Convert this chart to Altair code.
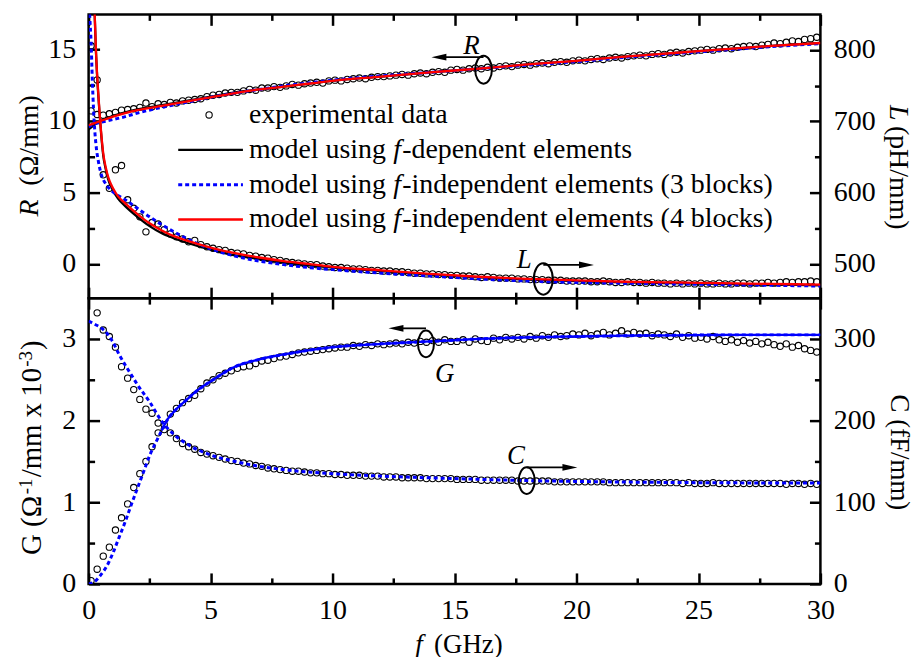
import altair as alt
import pandas as pd

FONT = "Liberation Serif"
FS = 28

# ---------------- measured data (experimental) ----------------
FREQ = [0.1, 0.35, 0.6, 0.85, 1.1, 1.35, 1.6, 1.85, 2.1, 2.35,
        2.6, 2.85, 3.1, 3.35, 3.6, 3.85, 4.1, 4.35, 4.6, 4.85,
        5.1, 5.35, 5.6, 5.85, 6.1, 6.35, 6.6, 6.85, 7.1, 7.35,
        7.6, 7.85, 8.1, 8.35, 8.6, 8.85, 9.1, 9.35, 9.6, 9.85,
        10.1, 10.35, 10.6, 10.85, 11.1, 11.35, 11.6, 11.85, 12.1, 12.35,
        12.6, 12.85, 13.1, 13.35, 13.6, 13.85, 14.1, 14.35, 14.6, 14.85,
        15.1, 15.35, 15.6, 15.85, 16.1, 16.35, 16.6, 16.85, 17.1, 17.35,
        17.6, 17.85, 18.1, 18.35, 18.6, 18.85, 19.1, 19.35, 19.6, 19.85,
        20.1, 20.35, 20.6, 20.85, 21.1, 21.35, 21.6, 21.85, 22.1, 22.35,
        22.6, 22.85, 23.1, 23.35, 23.6, 23.85, 24.1, 24.35, 24.6, 24.85,
        25.1, 25.35, 25.6, 25.85, 26.1, 26.35, 26.6, 26.85, 27.1, 27.35,
        27.6, 27.85, 28.1, 28.35, 28.6, 28.85, 29.1, 29.35, 29.6, 29.85]

R_EXP = [10.7, 10.45, 10.4, 10.5, 10.6, 10.75, 10.8, 10.85, 10.95, 11.25,
         11.0, 11.2, 11.15, 11.3, 11.25, 11.4, 11.45, 11.5, 11.55, 11.7,
         11.8, 11.85, 11.95, 12.0, 12.0, 12.1, 12.2, 12.15, 12.3, 12.3,
         12.4, 12.35, 12.45, 12.55, 12.5, 12.6, 12.65, 12.7, 12.65, 12.8,
         12.85, 12.8, 12.9, 12.95, 13.0, 12.95, 13.05, 13.1, 13.1, 13.15,
         13.2, 13.25, 13.2, 13.3, 13.35, 13.3, 13.4, 13.45, 13.4, 13.55,
         13.6, 13.55, 13.65, 13.7, 13.65, 13.75, 13.7, 13.8, 13.85, 13.8,
         13.9, 13.95, 13.9, 14.0, 14.05, 14.0, 14.1, 14.15, 14.1, 14.2,
         14.25, 14.2, 14.3, 14.35, 14.3, 14.4, 14.45, 14.4, 14.5, 14.55,
         14.6, 14.55, 14.65, 14.7, 14.65, 14.75, 14.8, 14.75, 14.85, 14.9,
         14.95, 15.0, 14.95, 15.05, 15.1, 15.05, 15.15, 15.2, 15.25, 15.2,
         15.3, 15.35, 15.45, 15.4, 15.5, 15.6, 15.55, 15.7, 15.75, 15.85]

L_EXP = [806, 758, 625, 606, 632, 638, 590, 578, 566, 545,
         558, 556, 548, 542, 538, 535, 531, 533, 527, 524,
         522, 520, 519, 516, 515, 514, 512, 511, 509, 508,
         506, 505, 503, 502, 501, 500, 499, 499, 497, 496,
         495, 495, 494, 493, 493, 492, 491, 491, 490, 490,
         489, 489, 488, 487, 487, 486, 486, 485, 485, 484,
         484, 483, 483, 482, 481, 482, 481, 480, 480, 480,
         479, 479, 478, 478, 478, 477, 477, 477, 476, 476,
         476, 476, 475, 475, 476, 475, 474, 474, 475, 474,
         474, 473, 474, 473, 473, 472, 473, 472, 473, 472,
         473, 472, 472, 473, 472, 472, 473, 473, 472, 473,
         473, 474, 473, 474, 475, 474, 475, 475, 476, 475]

G_EXP = [0.04, 0.18, 0.34, 0.45, 0.66, 0.81, 0.98, 1.18, 1.35, 1.5,
         1.68, 1.85, 1.95, 2.08, 2.15, 2.22, 2.27, 2.31, 2.39, 2.46,
         2.50, 2.55, 2.58, 2.61, 2.64, 2.66, 2.67, 2.70, 2.73, 2.74,
         2.76, 2.78, 2.79, 2.81, 2.83, 2.84, 2.85, 2.86, 2.87, 2.88,
         2.89, 2.90, 2.90, 2.92, 2.91, 2.93, 2.92, 2.94, 2.93, 2.94,
         2.95, 2.94, 2.96, 2.95, 2.97, 2.96, 2.98, 2.96, 2.99, 2.97,
         2.97, 2.99, 2.96, 3.00, 2.98, 2.97, 3.01, 2.99, 3.02, 3.00,
         3.02, 3.00, 3.03, 3.01, 3.04, 3.02, 3.05, 3.03, 3.04, 3.06,
         3.05, 3.07, 3.04, 3.06, 3.08, 3.05, 3.07, 3.10, 3.06, 3.08,
         3.06, 3.07, 3.04, 3.06, 3.05, 3.03, 3.06, 3.02, 3.04, 3.01,
         3.02, 3.00, 3.03, 2.99, 2.97, 2.99, 2.96, 2.98, 2.95, 2.97,
         2.94, 2.96, 2.93, 2.91, 2.94, 2.90, 2.92, 2.88, 2.86, 2.84]

C_EXP = [None, 332, 311, 303, 290, 266, 252, 238, 226, 214,
         209, 197, 189, 185, 178, 172, 168, 165, 161, 159,
         157, 155, 153, 151, 150, 148, 147, 145, 144, 142,
         141, 140, 139, 138, 138, 137, 136, 136, 135, 135,
         134, 134, 133, 133, 133, 132, 132, 132, 131, 131,
         131, 130, 130, 130, 130, 129, 129, 129, 129, 129,
         128, 128, 128, 128, 127, 127, 127, 127, 127, 127,
         126, 126, 126, 126, 126, 126, 125, 125, 125, 125,
         125, 125, 125, 125, 125, 124, 124, 124, 124, 124,
         124, 124, 124, 124, 124, 124, 124, 123, 124, 123,
         123, 123, 124, 123, 123, 123, 123, 123, 123, 123,
         123, 123, 123, 123, 122, 123, 123, 122, 123, 122]

# ---------------- model curves ----------------
R_MODEL_F = [0, 0.25, 0.5, 1, 1.5, 2, 3, 4, 5, 6, 7, 8, 9, 10, 12, 14, 16, 18, 20, 22, 24, 26, 28, 30]
R_FDEP = [9.4, 9.75, 10.0, 10.35, 10.6, 10.8, 11.1, 11.4, 11.7, 12.0, 12.2, 12.4, 12.6, 12.8,
          13.1, 13.4, 13.65, 13.95, 14.2, 14.5, 14.75, 15.0, 15.25, 15.45]
R_3BLK = [9.6, 9.8, 9.9, 10.1, 10.3, 10.55, 10.95, 11.3, 11.65, 11.95, 12.2, 12.45, 12.65, 12.85,
          13.15, 13.4, 13.65, 13.9, 14.15, 14.45, 14.7, 14.95, 15.2, 15.4]
R_4BLK = [9.7, 9.85, 10.0, 10.3, 10.55, 10.75, 11.05, 11.35, 11.65, 11.95, 12.2, 12.4, 12.6, 12.8,
          13.1, 13.4, 13.65, 13.95, 14.2, 14.5, 14.75, 15.0, 15.25, 15.45]

L_MODEL_F = [0.2, 0.25, 0.3, 0.35, 0.4, 0.45, 0.5, 0.6, 0.7, 0.8, 1.0, 1.2, 1.5, 2, 2.5, 3, 3.5, 4,
             5, 6, 7, 8, 9, 10, 12, 14, 16, 18, 20, 22, 24, 26, 28, 30]
L_FDEP = [920, 848, 798, 762, 735, 710, 688, 652, 633, 619, 603, 592, 581, 566, 553, 543, 536, 530,
          520, 512, 507, 502, 498, 495, 490, 485, 481, 478, 476, 474, 473, 472, 471, 470]
L_4BLK = [920, 850, 800, 765, 738, 712, 690, 655, 636, 622, 606, 595, 585, 570, 557, 547, 539, 533,
          523, 515, 509, 504, 500, 496, 491, 486, 482, 479, 477, 475, 474, 473, 472, 471]
L_3BLK_F = [0, 0.05, 0.1, 0.15, 0.2, 0.25, 0.3, 0.4, 0.5, 0.75, 1.0, 1.5, 2, 2.5, 3, 3.5, 4,
            5, 6, 7, 8, 9, 10, 12, 14, 16, 18, 20, 22, 24, 26, 28, 30]
L_3BLK = [880, 845, 812, 760, 718, 688, 668, 644, 628, 610, 601, 590, 578, 566, 555, 545, 536,
          521, 511, 504, 499, 495, 492, 487, 483, 479, 476, 474, 473, 472, 471, 470, 469]

G_MODEL_F = [0, 0.25, 0.5, 0.75, 1.0, 1.25, 1.5, 1.75, 2.0, 2.25, 2.5, 2.75, 3.0, 3.25, 3.5, 4, 4.5,
             5, 6, 7, 8, 9, 10, 12, 14, 16, 18, 20, 22, 24, 26, 28, 30]
G_MODEL = [0, 0.03, 0.11, 0.22, 0.38, 0.57, 0.76, 0.97, 1.17, 1.37, 1.57, 1.73, 1.88, 2.02, 2.11,
           2.25, 2.38, 2.48, 2.66, 2.75, 2.81, 2.86, 2.9, 2.94, 2.97, 3.0, 3.02, 3.03, 3.04, 3.045,
           3.05, 3.05, 3.05]
C_MODEL_F = [0, 0.25, 0.5, 0.75, 1.0, 1.25, 1.5, 1.75, 2.0, 2.5, 3.0, 3.5, 4, 5, 6, 7, 8, 9, 10,
             12, 15, 18, 20, 25, 30]
C_MODEL = [322, 318, 314, 307, 296, 281, 268, 256, 244, 223, 199, 183, 172, 158, 150, 144, 140,
           137, 135, 132, 129, 126.5, 125.5, 124, 123.5]

LEGEND_TEXT = ["experimental data", "model using", "f", "-dependent elements",
               "-independent elements (3 blocks)", "-independent elements (4 blocks)"]

# ---------------- scales / axes ----------------
XS = alt.Scale(domain=[0, 30], nice=False, zero=False)
RS = alt.Scale(domain=[-2.39, 17.45], nice=False, zero=False)
LS = alt.Scale(domain=[452, 850], nice=False, zero=False)
GS = alt.Scale(domain=[0, 3.5], nice=False, zero=False)
CS = alt.Scale(domain=[0, 350], nice=False, zero=False)

X_MAJOR = [0, 5, 10, 15, 20, 25, 30]
X_MINOR = [2.5, 7.5, 12.5, 17.5, 22.5, 27.5]


def axis(orient, values, major=True, labels=False):
    n = 11 if major else 6
    return alt.Axis(orient=orient, values=values, format="d", labels=labels, domain=False,
                    grid=False, ticks=True, tickSize=n, offset=-n, tickColor="black",
                    tickWidth=2.5, labelFont=FONT, labelFontSize=FS, labelColor="black",
                    labelPadding=13, labelFlush=False, labelOverlap=False, title="")


ONE = pd.DataFrame({"k": [0]})
exp = pd.DataFrame({"f": FREQ, "R": R_EXP, "L": L_EXP, "G": G_EXP, "C": C_EXP})
df_r = pd.DataFrame({"f": R_MODEL_F, "fdep": R_FDEP, "b3": R_3BLK, "b4": R_4BLK})
df_l = pd.DataFrame({"f": L_MODEL_F, "fdep": L_FDEP, "b4": L_4BLK})
df_l3 = pd.DataFrame({"f": L_3BLK_F, "b3": L_3BLK})
df_g = pd.DataFrame({"f": G_MODEL_F, "g": G_MODEL})
df_c = pd.DataFrame({"f": C_MODEL_F, "c": C_MODEL})

PT = dict(shape="circle", filled=False, size=40, strokeWidth=1.1, color="black", opacity=1, clip=True)
ELLIPSE = ("M 0 -1 C 0.331 -1 0.6 -0.552 0.6 0 C 0.6 0.552 0.331 1 0 1 "
           "C -0.331 1 -0.6 0.552 -0.6 0 C -0.6 -0.552 -0.331 -1 0 -1 Z")
HEAD_L = "M -1 0 L 1 -0.45 L 1 0.45 Z"
HEAD_R = "M 1 0 L -1 -0.45 L -1 0.45 Z"


def points(field, scale, xax=None, yax=None):
    return alt.Chart(exp).mark_point(**PT).encode(
        x=alt.X("f:Q", scale=XS, axis=xax),
        y=alt.Y(f"{field}:Q", scale=scale, axis=yax))


def line(df, field, scale, color, dash=False, xax=None, yax=None, solid_from=None):
    kw = dict(color=color, strokeWidth=2.3, interpolate="monotone", clip=True)
    if dash:
        kw.update(strokeDash=[4, 3], strokeWidth=3)
    ch = alt.Chart(df)
    if solid_from is not None:
        ch = ch.transform_filter(alt.datum.f >= solid_from)
    return ch.mark_line(**kw).encode(
        x=alt.X("f:Q", scale=XS, axis=xax),
        y=alt.Y(f"{field}:Q", scale=scale, axis=yax))


def label(text, x, y, italic=False, angle=0, align="left", size=FS, baseline="middle"):
    kw = dict(text=text, font=FONT, fontSize=size, color="black", align=align,
              baseline=baseline, angle=angle)
    if italic:
        kw["fontStyle"] = "italic"
    return alt.Chart(ONE).mark_text(**kw).encode(x=alt.value(x), y=alt.value(y))


def annotation(scale, ell, arr_v, head_f, head_shape, txt, name, ell_size):
    d_e = pd.DataFrame({"f": [ell[0]], "v": [ell[1]]})
    d_r = pd.DataFrame({"f0": [ell[0]], "f1": [head_f], "v": [arr_v]})
    d_h = pd.DataFrame({"f": [head_f], "v": [arr_v]})
    d_t = pd.DataFrame({"f": [txt[0]], "v": [txt[1]]})
    e = alt.Chart(d_e).mark_point(shape=ELLIPSE, filled=False, size=ell_size, strokeWidth=2,
                                  color="black", opacity=1).encode(
        x=alt.X("f:Q", scale=XS, axis=None), y=alt.Y("v:Q", scale=scale, axis=None))
    r = alt.Chart(d_r).mark_rule(color="black", strokeWidth=1.8).encode(
        x=alt.X("f0:Q", scale=XS, axis=None), x2="f1:Q",
        y=alt.Y("v:Q", scale=scale, axis=None))
    h = alt.Chart(d_h).mark_point(shape=head_shape, filled=True, size=225, color="black",
                                  opacity=1).encode(
        x=alt.X("f:Q", scale=XS, axis=None), y=alt.Y("v:Q", scale=scale, axis=None))
    t = alt.Chart(d_t).mark_text(text=name, font=FONT, fontSize=27, fontStyle="italic",
                                 color="black", align="center", baseline="middle").encode(
        x=alt.X("f:Q", scale=XS, axis=None), y=alt.Y("v:Q", scale=scale, axis=None))
    return [e, r, h, t]


def legend_rule(y, color, dash=False):
    kw = dict(color=color, strokeWidth=2.3)
    if dash:
        kw.update(strokeDash=[4, 3], strokeWidth=3)
    return alt.Chart(ONE).mark_rule(**kw).encode(x=alt.value(90), x2=alt.value(155), y=alt.value(y))


# ---------------- top panel: R and L ----------------
top_layers = [
    points("R", RS, axis("bottom", X_MAJOR), axis("left", [0, 5, 10, 15], labels=True)),
    points("L", LS, axis("top", X_MAJOR), axis("right", [500, 600, 700, 800], labels=True)),
    line(df_r, "fdep", RS, "black", xax=axis("bottom", X_MINOR, False), yax=axis("left", [2.5, 7.5, 12.5], False)),
    line(df_l, "fdep", LS, "black", xax=axis("top", X_MINOR, False), yax=axis("right", [550, 650, 750], False)),
    line(df_r, "b3", RS, "#0000ff", dash=True),
    line(df_l3, "b3", LS, "#0000ff", dash=True),
    line(df_r, "b4", RS, "#ff0000"),
    line(df_l, "b4", LS, "#ff0000"),
]
top_layers += annotation(RS, (16.19, 13.58), 14.46, 14.36, HEAD_L, (15.69, 15.23), "R", 784)
top_layers += annotation(LS, (18.64, 479), 498.6, 20.41, HEAD_R, (17.86, 505), "L", 1000)

# legend
top_layers += [
    alt.Chart(ONE).mark_point(**{**PT, "clip": False}).encode(x=alt.value(121), y=alt.value(101)),
    legend_rule(136, "black"),
    legend_rule(171, "#0000ff", dash=True),
    legend_rule(206, "#ff0000"),
    label(LEGEND_TEXT[0], 161, 101),
]
for yy, rest in [(136, LEGEND_TEXT[3]), (171, LEGEND_TEXT[4]), (206, LEGEND_TEXT[5])]:
    top_layers += [label(LEGEND_TEXT[1], 161, yy), label(LEGEND_TEXT[2], 306, yy, italic=True),
                   label(rest, 315, yy)]

# axis titles
top_layers += [
    label("R", -59, 203, italic=True, angle=270),
    label("(Ω/mm)", -59, 172, angle=270),
    label("L", 813, 91, italic=True, angle=90),
    label("(pH/mm)", 813, 112, angle=90),
]

top = alt.layer(*top_layers).resolve_scale(y="independent").resolve_axis(
    x="independent", y="independent").properties(width=735, height=285)

# ---------------- bottom panel: G and C ----------------
bot_layers = [
    points("G", GS, axis("bottom", X_MAJOR, labels=True), axis("left", [0, 1, 2, 3], labels=True)),
    points("C", CS, axis("top", X_MAJOR), axis("right", [0, 100, 200, 300], labels=True)),
    line(df_g, "g", GS, "#0000ff", dash=True, xax=axis("bottom", X_MINOR, False), yax=axis("left", [0.5, 1.5, 2.5], False)),
    line(df_c, "c", CS, "#0000ff", dash=True, xax=axis("top", X_MINOR, False), yax=axis("right", [50, 150, 250], False)),
    line(df_g, "g", GS, "#0000ff", solid_from=3.0),
]
bot_layers += annotation(GS, (13.83, 2.94), 3.13, 12.6, HEAD_L, (14.6, 2.57), "G", 720)
bot_layers += annotation(CS, (17.96, 126.5), 142.7, 19.73, HEAD_R, (17.52, 156), "C", 720)
bot_layers += [
    label("G (Ω", -57, 258, angle=270, size=29),
    label("-1", -63, 197, angle=270, size=19),
    label("/mm", -57, 180, angle=270, size=29),
    label("x", -57, 120, angle=270, size=29),
    label("10", -57, 99, angle=270, size=29),
    label("-3", -63, 69, angle=270, size=19),
    label(")", -57, 52, angle=270, size=29),
    label("C (fF/mm)", 814, 155, angle=90, align="center", size=27),
    label("f", 328, 356, italic=True, baseline="alphabetic", size=27),
    label("(GHz)", 347, 356, baseline="alphabetic", size=27),
]

bottom = alt.layer(*bot_layers).resolve_scale(y="independent").resolve_axis(
    x="independent", y="independent").properties(width=735, height=287)

chart = alt.vconcat(top, bottom, spacing=0, bounds="flush").properties(
    padding={"left": 14, "top": 10, "right": 0, "bottom": 0}
).configure(font=FONT).configure_view(stroke="black", strokeWidth=2.5)

chart.save("out.html", embed_options={"renderer": "svg", "actions": False})
